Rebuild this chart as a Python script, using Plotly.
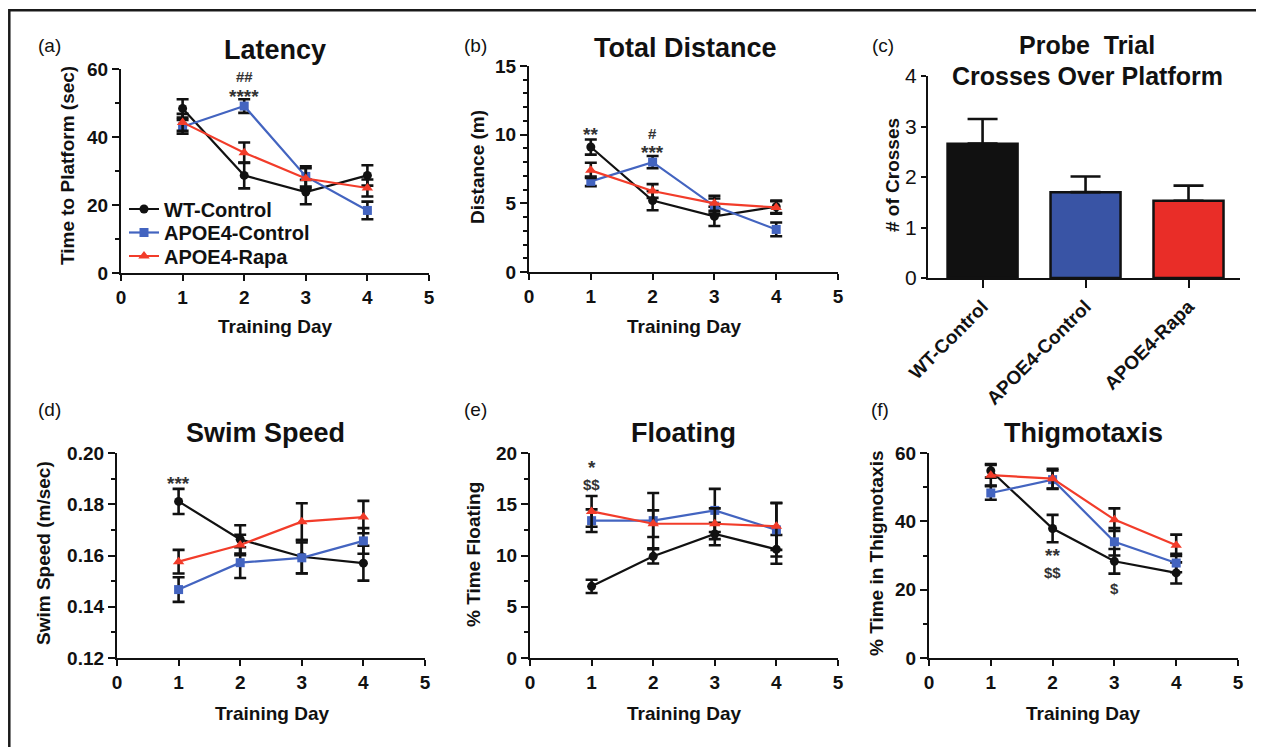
import plotly.graph_objects as go

# the page body has an 8px margin, so the figure is drawn 8px in from the window edge
OFF = 8
W, H = 1264 - OFF, 747 - OFF

# ---------------- data ----------------
days = [1, 2, 3, 4]
groups = ["WT-Control", "APOE4-Control", "APOE4-Rapa"]

lat_wt = [48.4, 28.7, 23.8, 28.7]
lat_wt_err = [2.7, 3.8, 3.6, 3.0]
lat_apoe = [43.0, 49.1, 28.4, 18.4]
lat_apoe_err = [2.0, 2.0, 3.0, 2.6]
lat_rapa = [44.3, 35.4, 27.8, 25.0]
lat_rapa_err = [2.5, 3.0, 3.0, 2.5]

dist_wt = [9.1, 5.2, 4.05, 4.75]
dist_wt_err = [0.55, 0.7, 0.7, 0.45]
dist_apoe = [6.6, 8.0, 4.8, 3.1]
dist_apoe_err = [0.35, 0.45, 0.55, 0.5]
dist_rapa = [7.4, 5.9, 5.0, 4.7]
dist_rapa_err = [0.55, 0.5, 0.55, 0.45]

probe_vals = [2.66, 1.70, 1.53]
probe_err = [0.49, 0.31, 0.30]

speed_wt = [0.1811, 0.1663, 0.1595, 0.1570]
speed_wt_err = [0.0049, 0.0055, 0.0065, 0.0068]
speed_apoe = [0.1467, 0.1572, 0.1591, 0.1657]
speed_apoe_err = [0.0048, 0.006, 0.006, 0.005]
speed_rapa = [0.1576, 0.1641, 0.1732, 0.1750]
speed_rapa_err = [0.0046, 0.004, 0.0072, 0.0063]

float_wt = [6.99, 9.92, 12.1, 10.6]
float_wt_err = [0.65, 0.7, 1.1, 1.4]
float_apoe = [13.4, 13.4, 14.4, 12.5]
float_apoe_err = [1.1, 2.7, 2.1, 2.6]
float_rapa = [14.3, 13.1, 13.1, 12.85]
float_rapa_err = [1.5, 1.3, 1.5, 2.3]

thig_wt = [54.8, 37.9, 28.3, 24.9]
thig_wt_err = [2.0, 4.0, 3.6, 3.1]
thig_apoe = [48.3, 52.2, 34.0, 27.8]
thig_apoe_err = [2.0, 2.7, 4.0, 2.7]
thig_rapa = [53.5, 52.5, 40.5, 33.0]
thig_rapa_err = [3.0, 2.9, 3.3, 3.1]

x_ticks = [0, 1, 2, 3, 4, 5]

# ---------------- style ----------------
FONT = "Liberation Sans"
BLACK = "#111111"
BLUE_L = "#4364c0"
RED_L = "#f23c2a"
BLUE_B = "#3954a5"
RED_B = "#e92d28"

series_style = [
    (groups[0], BLACK, "circle", 9),
    (groups[1], BLUE_L, "square", 9),
    (groups[2], RED_L, "triangle-up", 10),
]
legend_ids = ["legend", "legend2", "legend3"]

fig = go.Figure()


def add_lines(xa, ya, vals, errs, show_legend=False):
    for (name, col, sym, sz), lid, v, e in zip(series_style, legend_ids, vals, errs):
        fig.add_trace(go.Scatter(
            x=days, y=v, name=name, mode="lines+markers",
            line=dict(color=col, width=2.2),
            marker=dict(color=col, symbol=sym, size=sz),
            error_y=dict(type="data", array=e, visible=True, color=BLACK,
                         thickness=2.6, width=6),
            xaxis=xa, yaxis=ya, showlegend=show_legend, legend=lid,
        ))


add_lines("x", "y", [lat_wt, lat_apoe, lat_rapa],
          [lat_wt_err, lat_apoe_err, lat_rapa_err], show_legend=True)
add_lines("x2", "y2", [dist_wt, dist_apoe, dist_rapa],
          [dist_wt_err, dist_apoe_err, dist_rapa_err])
fig.add_trace(go.Bar(
    x=groups, y=probe_vals, width=0.68,
    marker=dict(color=[BLACK, BLUE_B, RED_B], line=dict(color=BLACK, width=2.5)),
    error_y=dict(type="data", symmetric=False, array=probe_err,
                 arrayminus=[0, 0, 0], color=BLACK, thickness=2.6, width=15),
    xaxis="x3", yaxis="y3", showlegend=False,
))
add_lines("x4", "y4", [speed_wt, speed_apoe, speed_rapa],
          [speed_wt_err, speed_apoe_err, speed_rapa_err])
add_lines("x5", "y5", [float_wt, float_apoe, float_rapa],
          [float_wt_err, float_apoe_err, float_rapa_err])
add_lines("x6", "y6", [thig_wt, thig_apoe, thig_rapa],
          [thig_wt_err, thig_apoe_err, thig_rapa_err])


def px_x(p):
    return (p - OFF) / W


def px_y(p):
    return 1 - (p - OFF) / H


def xdom(a, b):
    return [px_x(a), px_x(b)]


def ydom(top, bottom):
    return [px_y(bottom), px_y(top)]


tickfont = dict(family=FONT, size=19, color=BLACK, weight="bold")

common_axis = dict(showline=True, linecolor=BLACK, linewidth=2.2, ticks="outside",
                   ticklen=7, tickwidth=2.2, tickcolor=BLACK, showgrid=False,
                   zeroline=False, tickfont=tickfont, fixedrange=True,
                   automargin=False)


def xaxis_num(dom, anchor):
    d = dict(common_axis)
    d.update(domain=dom, anchor=anchor, range=[0, 5], tickvals=x_ticks, ticklen=6)
    return d


def yaxis_num(dom, anchor, rng, dtick, minor):
    d = dict(common_axis)
    d.update(domain=dom, anchor=anchor, range=rng, dtick=dtick, tick0=rng[0],
             minor=dict(ticks="outside", ticklen=4, tickwidth=2, tickcolor=BLACK,
                        dtick=minor, tick0=rng[0], showgrid=False))
    return d


layout = dict(
    width=W, height=H, autosize=False,
    margin=dict(l=0, r=0, t=0, b=0, pad=0, autoexpand=False),
    paper_bgcolor="white", plot_bgcolor="white",
    font=dict(family=FONT, color=BLACK),
    bargap=0.3,
)
layout["xaxis"] = xaxis_num(xdom(121, 429), "y")
layout["yaxis"] = yaxis_num(ydom(69, 273), "x", [0, 60], 20, 10)
layout["xaxis2"] = xaxis_num(xdom(529, 838), "y2")
layout["yaxis2"] = yaxis_num(ydom(66, 272), "x2", [0, 15], 5, 1)

xc = dict(common_axis)
xc.update(domain=xdom(928, 1240), anchor="y3", range=[-0.53, 2.5], tickangle=-45,
          ticklen=8, tickfont=dict(family=FONT, size=19, color=BLACK, weight="bold"))
layout["xaxis3"] = xc
yc = dict(common_axis)
yc.update(domain=ydom(76, 278), anchor="x3", range=[0, 4], dtick=1, ticklen=5,
          tickfont=dict(family=FONT, size=21, color=BLACK))
layout["yaxis3"] = yc

layout["xaxis4"] = xaxis_num(xdom(117, 425), "y4")
layout["yaxis4"] = yaxis_num(ydom(453, 658), "x4", [0.12, 0.20], 0.02, 0.01)
layout["yaxis4"]["tickformat"] = ".2f"
layout["xaxis5"] = xaxis_num(xdom(530, 838), "y5")
layout["yaxis5"] = yaxis_num(ydom(453, 658), "x5", [0, 20], 5, 2.5)
layout["xaxis6"] = xaxis_num(xdom(929, 1238), "y6")
layout["yaxis6"] = yaxis_num(ydom(453, 658), "x6", [0, 60], 20, 10)

# one legend box per row so the rows sit exactly where the reference has them
legend_rows = [209, 232.5, 256]
for lid, row in zip(legend_ids, legend_rows):
    layout[lid] = dict(
        x=px_x(124), y=px_y(row), xanchor="left", yanchor="middle",
        bgcolor="rgba(255,255,255,0)", borderwidth=0,
        font=dict(family=FONT, size=20, color=BLACK, weight="bold"),
        itemwidth=30,
    )

fig.update_layout(**layout)

annotations = []


def ann(xp, yp, text, size, bold=True, angle=0, color=BLACK):
    annotations.append(dict(
        x=px_x(xp), y=px_y(yp), xref="paper", yref="paper", text=text,
        showarrow=False, xanchor="center", yanchor="middle", textangle=angle,
        font=dict(family=FONT, size=size, color=color,
                  weight="bold" if bold else "normal"),
    ))


SIG_COL = "#333333"
STAR, SYM = 19, 15


def data_ann(xr, yr, x, y, text, size):
    annotations.append(dict(
        x=x, y=y, xref=xr, yref=yr, text=text, showarrow=False,
        xanchor="center", yanchor="middle",
        font=dict(family=FONT, size=size, color=SIG_COL, weight="bold"),
    ))


# panel letters
ann(49, 45, "(a)", 19, bold=False)
ann(476, 45, "(b)", 19, bold=False)
ann(883, 45, "(c)", 19, bold=False)
ann(49, 409, "(d)", 19, bold=False)
ann(476, 409, "(e)", 19, bold=False)
ann(880, 409, "(f)", 19, bold=False)

# titles
ann(275, 50, "Latency", 27)
ann(685, 48, "Total Distance", 27)
ann(1087, 45, "Probe  Trial", 25)
ann(1087, 76, "Crosses Over Platform", 25)
ann(265, 433, "Swim Speed", 27)
ann(683, 433, "Floating", 27)
ann(1083, 433, "Thigmotaxis", 27)

# axis titles
ann(275, 326, "Training Day", 19)
ann(684, 326, "Training Day", 19)
ann(272, 713, "Training Day", 19)
ann(684, 713, "Training Day", 19)
ann(1083, 713, "Training Day", 19)
ann(67, 166, "Time to Platform (sec)", 19, angle=-90)
ann(477, 167, "Distance (m)", 19, angle=-90)
ann(892, 175, "# of Crosses", 19, angle=-90)
ann(43, 553, "Swim Speed (m/sec)", 19, angle=-90)
ann(473, 555, "% Time Floating", 19, angle=-90)
ann(876, 553, "% Time in Thigmotaxis", 19, angle=-90)

# significance marks
data_ann("x", "y", 2, 57.65, "##", SYM)
data_ann("x", "y", 2, 51.95, "****", STAR)
data_ann("x2", "y2", 1, 10.0, "**", STAR)
data_ann("x2", "y2", 2, 10.1, "#", SYM)
data_ann("x2", "y2", 2, 8.73, "***", STAR)
data_ann("x4", "y4", 1, 0.1882, "***", STAR)
data_ann("x5", "y5", 1, 18.62, "*", STAR)
data_ann("x5", "y5", 1, 16.92, "$$", SYM)
data_ann("x6", "y6", 2, 30.11, "**", STAR)
data_ann("x6", "y6", 2, 24.99, "$$", SYM)
data_ann("x6", "y6", 3, 20.28, "$", SYM)

fig.update_layout(annotations=annotations)

# outer frame of the figure
fig.add_shape(type="rect", xref="paper", yref="paper",
              x0=px_x(9.3), x1=1.02, y0=-0.02, y1=px_y(10.3),
              line=dict(color="#1a1a1a", width=2.5), fillcolor="rgba(0,0,0,0)")

fig.write_html("out.html")
